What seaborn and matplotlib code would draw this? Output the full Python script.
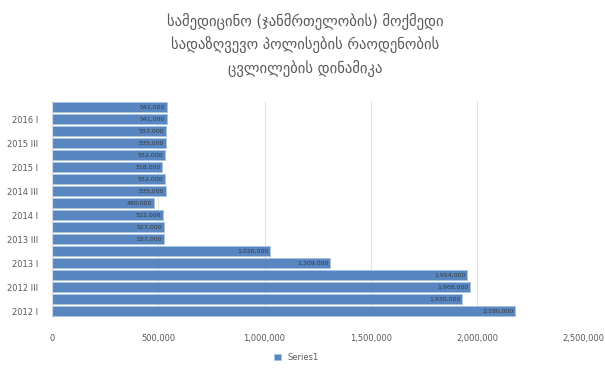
import matplotlib
matplotlib.use("Agg")
import matplotlib.pyplot as plt
from matplotlib.ticker import FuncFormatter
import seaborn as sns
import pandas as pd

# quarters, bottom (2012 I) to top (2016 II)
quarters = ["2012 I", "2012 II", "2012 III", "2012 IV",
            "2013 I", "2013 II", "2013 III", "2013 IV",
            "2014 I", "2014 II", "2014 III", "2014 IV",
            "2015 I", "2015 II", "2015 III", "2015 IV",
            "2016 I", "2016 II"]
policies = [2180000, 1930000, 1968000, 1954000,
            1309000, 1026000, 527000, 527000,
            522000, 480000, 535000, 532000,
            518000, 532000, 535000, 537000,
            541000, 541000]
x_ticks = [0, 500000, 1000000, 1500000, 2000000, 2500000]

title = ("სამედიცინო (ჯანმრთელობის) მოქმედი\n"
         "სადაზღვევო პოლისების რაოდენობის\n"
         "ცვლილების დინამიკა")
series_name = "Series1"

bar_color = "#5886c1"
text_color = "#595959"

sns.set_style("white")
plt.rcParams["font.family"] = ["DejaVu Sans"]

df = pd.DataFrame({"quarter": quarters, "value": policies})
order = quarters[::-1]  # seaborn draws the first category on top

fig = plt.figure(figsize=(6.05, 3.73), dpi=100)
ax = fig.add_axes([0.086, 0.150, 0.878, 0.579])

sns.barplot(data=df, x="value", y="quarter", order=order, orient="h",
            color=bar_color, width=0.8, saturation=1, ax=ax,
            edgecolor="#a9c4e6", linewidth=0.6, label=series_name)

# data labels, inside end of each bar
for i, q in enumerate(order):
    v = df.loc[df["quarter"] == q, "value"].iloc[0]
    ax.text(v - 8000, i, f"{v:,.0f}", ha="right", va="center",
            fontsize=4.5, color="#3a3a3a")

ax.set_xlim(0, 2500000)
ax.set_xticks(x_ticks)
ax.xaxis.set_major_formatter(FuncFormatter(lambda v, p: f"{v:,.0f}"))
ax.tick_params(axis="x", length=0, labelsize=6, colors=text_color, pad=12)
ax.tick_params(axis="y", length=0, labelsize=6, colors=text_color, pad=10)

# Excel skips every other category label
ylabels = [q if (len(order) - 1 - i) % 2 == 0 else "" for i, q in enumerate(order)]
ax.set_yticks(range(len(order)))
ax.set_yticklabels(ylabels)

ax.set_xlabel("")
ax.set_ylabel("")
ax.grid(axis="x", color="#e3e3e3", linewidth=0.8)
ax.set_axisbelow(True)
for side in ["top", "right", "bottom"]:
    ax.spines[side].set_visible(False)
ax.spines["left"].set_color("#d9d9d9")

fig.suptitle(title, x=0.505, y=0.965, fontsize=10.5, color=text_color,
             linespacing=1.5)

leg = ax.legend(loc="upper center", bbox_to_anchor=(0.46, -0.13), frameon=False,
                fontsize=6, labelcolor=text_color, handlelength=0.8,
                handleheight=0.8)

fig.savefig("out.png", dpi=100)
